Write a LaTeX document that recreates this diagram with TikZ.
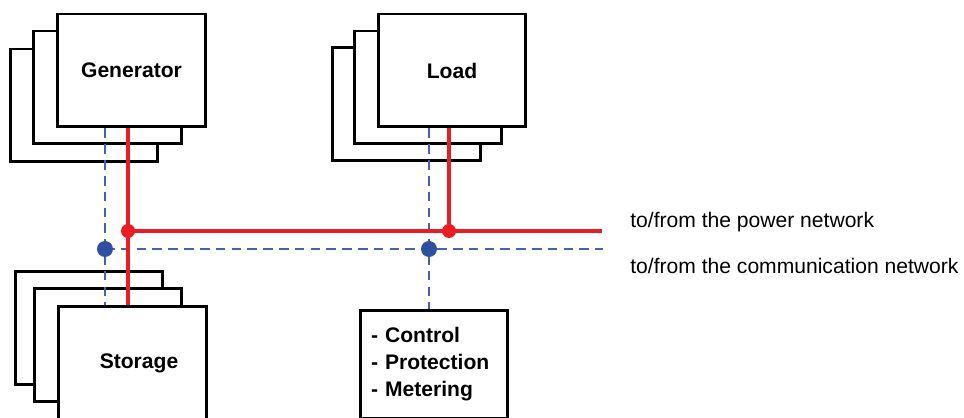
\documentclass[tikz,border=0pt]{standalone}
\usepackage{fontspec}
\setmainfont{Liberation Sans}
\usetikzlibrary{positioning, calc}
\definecolor{powerred}{HTML}{EC1C24}
\definecolor{commblue}{HTML}{2F4FA2}
\definecolor{dashblue}{HTML}{4462B4}

\begin{document}
\begin{tikzpicture}[
        x=0.02cm, y=-0.02cm,
        unit/.style={rectangle, draw=black, fill=white, line width=1.7pt,
                     minimum width=2.96cm, minimum height=2.26cm,
                     font=\fontsize{12}{15.4}\selectfont\bfseries},
        power/.style={line width=2.4pt, powerred},
        comm/.style={line width=0.7pt, dashblue, dash pattern=on 5.5pt off 3.5pt},
        pdot/.style={circle, fill=powerred, inner sep=0pt, minimum size=0.28cm},
        cdot/.style={circle, fill=commblue, inner sep=0pt, minimum size=0.32cm},
        netlabel/.style={anchor=west, inner sep=0pt, font=\fontsize{12}{14}\selectfont}
      ]
        \useasboundingbox (0,0) rectangle (964,418);
        % generator stack
        \node[unit] (gen3) at (84,105.5) {};
        \node[unit] (gen2) at (107.5,87.5) {};
        \node[unit] (gen) at (131.5,70.5) {Generator};
        % load stack
        \node[unit] (load3) at (406.5,104) {};
        \node[unit] (load2) at (428,87.5) {};
        \node[unit] (load) at (452,70.5) {Load};
        % storage stack
        \node[unit] (sto3) at (89,328) {};
        \node[unit] (sto2) at (108,345) {};
        \node[unit] (sto) at (132.5,363) {\hspace*{0.26cm}Storage};
        % control box
        \node[unit, align=left, text width=2.52cm, inner sep=0.22cm,
              minimum height=2.18cm] (ctrl) at (434,364.5)
              {- Control\\- Protection\\- Metering};
        % junctions and line ends
        \coordinate (pgen) at (128,231);
        \coordinate (pload) at (449,231);
        \coordinate (pend) at (602,231);
        \coordinate (cgen) at (105,249);
        \coordinate (cload) at (429,249);
        \coordinate (cend) at (603,249);
        \draw[comm] (gen.south -| cgen) -- (sto.north -| cgen);
        \draw[comm] (load.south -| cload) -- (ctrl.north -| cload);
        \draw[comm] (cgen) -- (cend);
        \draw[power] (gen.south -| pgen) -- (sto.north -| pgen);
        \draw[power] (load.south -| pload) -- (pload);
        \draw[power] (pgen) -- (pend);
        \node[pdot] (jpgen) at (pgen) {};
        \node[pdot] (jpload) at (pload) {};
        \node[cdot] (jcgen) at (cgen) {};
        \node[cdot] (jcload) at (cload) {};
        % network labels
        \node[netlabel] (powerlbl) at (630,222) {to/from the power network};
        \node[netlabel] (commlbl) at (630,266) {to/from the communication network};
      \end{tikzpicture}
\end{document}
